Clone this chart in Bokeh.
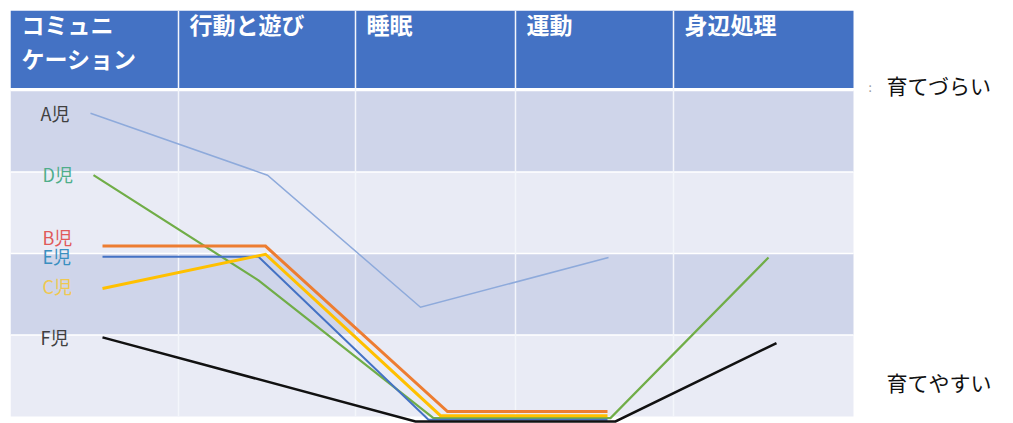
from bokeh.plotting import figure
from bokeh.models import Range1d
from bokeh.embed import file_html
from bokeh.resources import INLINE
from bokeh.core.properties import value

# ---- data ----
categories = ["コミュニ\nケーション", "行動と遊び", "睡眠", "運動", "身辺処理"]
col_edges = [10, 178, 355, 515, 673, 853]      # horizontal position units
level_edges = [0, 1, 2, 3, 4]                  # vertical levels (rows)
header_bottom = 4.03
header_top = 4.98

children = ["A児", "D児", "B児", "E児", "C児", "F児"]
x_A = [90, 267, 420, 608]
y_A = [3.72, 2.96, 1.34, 1.95]
x_D = [93, 258, 433, 610, 768]
y_D = [2.96, 1.67, -0.02, -0.02, 1.95]
x_B = [102, 265, 447, 607]
y_B = [2.09, 2.09, 0.06, 0.06]
x_E = [102, 258, 428, 607]
y_E = [1.96, 1.96, -0.04, -0.04]
x_C = [102, 265, 440, 607]
y_C = [1.57, 1.99, 0.01, 0.01]
x_F = [102, 415, 615, 776]
y_F = [0.97, -0.06, -0.06, 0.90]

label_x = [40, 42, 42, 42, 42, 40]
label_y = [3.72, 2.98, 2.2, 1.97, 1.6, 0.98]

side_labels = ["育てづらい", "育てやすい"]
side_y = [4.07, 0.42]

# ---- figure ----
p = figure(width=997, height=423, output_backend="svg", toolbar_location=None,
           x_range=Range1d(10, 997), y_range=Range1d(-0.086, 4.98),
           min_border_left=10, min_border_right=0, min_border_top=10, min_border_bottom=0)
p.axis.visible = False
p.grid.visible = False
p.outline_line_color = None
p.background_fill_color = "white"
p.border_fill_color = "white"

# row bands
band_colors = ["#e9ebf5", "#cfd5ea", "#e9ebf5", "#cfd5ea"]
p.quad(left=[col_edges[0]] * 4, right=[col_edges[-1]] * 4,
       bottom=level_edges[:4], top=[l + 1 for l in level_edges[:4]],
       fill_color=band_colors, line_color=None)
# header
p.quad(left=[col_edges[0]], right=[col_edges[-1]], bottom=[header_bottom], top=[header_top],
       fill_color="#4472c4", line_color=None)
# horizontal white separators between rows
p.segment(x0=[col_edges[0]] * 4, x1=[col_edges[-1]] * 4, y0=level_edges[1:] + [4.015],
          y1=level_edges[1:] + [4.015], line_color="white", line_width=1.5)
# column separators
p.segment(x0=col_edges[1:-1], x1=col_edges[1:-1], y0=[0] * 4, y1=[header_top] * 4,
          line_color="#f4f6fb", line_width=1.5)

# header text
p.text(x=[c + 11 for c in col_edges[:-1]], y=[header_top + 0.04] * 5, text=categories,
       text_color="white", text_font=value("Noto Sans CJK JP"), text_font_style="bold",
       text_font_size="23px", text_baseline="top", text_align="left", text_line_height=1.0)

# series lines
series = [
    (x_A, y_A, "#8eaadb", 1.5),
    (x_D, y_D, "#70ad47", 2.2),
    (x_B, y_B, "#ed7d31", 3),
    (x_E, y_E, "#4472c4", 2),
    (x_C, y_C, "#ffc000", 3),
    (x_F, y_F, "#111111", 2.5),
]
for xs, ys, col, w in series:
    p.line(xs, ys, line_color=col, line_width=w, line_join="miter")

# child labels
label_colors = ["#404040", "#4fae8a", "#e05a5a", "#3a8fc0", "#f0c850", "#404040"]
p.text(x=label_x, y=label_y, text=children, text_color=label_colors,
       text_font=value("Noto Sans CJK JP"), text_font_size="18px",
       text_baseline="middle", text_align="left")

# side labels
p.text(x=[886, 886], y=side_y, text=side_labels, text_color="#111111",
       text_font=value("Noto Sans CJK JP"), text_font_size="21px",
       text_baseline="middle", text_align="left")
p.text(x=[868], y=[4.05], text=[":"], text_color="#999999",
       text_font=value("Noto Sans CJK JP"), text_font_size="12px",
       text_baseline="middle", text_align="left")

open("out.html", "w").write(file_html(p, INLINE))
